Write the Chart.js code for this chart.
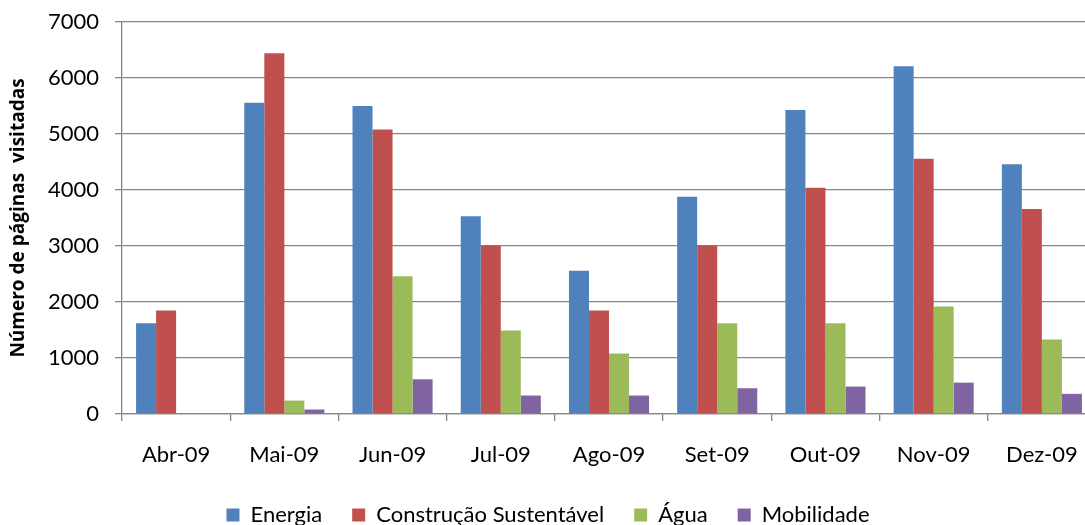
<!DOCTYPE html>
<html lang="pt">
<head>
<meta charset="utf-8">
<script src="https://cdn.jsdelivr.net/npm/chart.js@4"></script>
<style>
  html, body { margin: 0; padding: 0; background: #fff; overflow: hidden; }
  #wrap { width: 1085px; height: 525px; overflow: hidden; }
  canvas { display: block; }
</style>
</head>
<body>
<div id="wrap"><canvas id="grafico" width="1100" height="536"></canvas></div>
<script>
// ── dados ──────────────────────────────────────────────
const categorias = ["Abr-09", "Mai-09", "Jun-09", "Jul-09", "Ago-09", "Set-09", "Out-09", "Nov-09", "Dez-09"];
const energia    = [1620, 5560, 5500, 3530, 2560, 3880, 5430, 6210, 4460];
const construcao = [1850, 6440, 5080, 3010, 1850, 3010, 4040, 4560, 3660];
const agua       = [null,  240, 2460, 1490, 1080, 1620, 1620, 1920, 1330];
const mobilidade = [null,   80,  620,  330,  330,  460,  490,  560,  360];
const yTicks     = [0, 1000, 2000, 3000, 4000, 5000, 6000, 7000];

const FONTE = "Lato, 'Open Sans', sans-serif";
const CINZA = "#868686";

function serie(label, data, cor) {
  return {
    label, data,
    backgroundColor: cor,
    borderWidth: 0,
    barPercentage: 1,
    categoryPercentage: 0.74,
  };
}

new Chart(document.getElementById("grafico"), {
  type: "bar",
  data: {
    labels: categorias,
    datasets: [
      serie("Energia", energia, "#4F81BD"),
      serie("Construção Sustentável", construcao, "#C0504D"),
      serie("Água", agua, "#9BBB59"),
      serie("Mobilidade", mobilidade, "#8064A2"),
    ],
  },
  options: {
    responsive: false,
    animation: false,
    layout: { padding: { top: 22, right: 4, left: 0, bottom: 0 } },
    plugins: {
      tooltip: { enabled: false },
      legend: {
        position: "bottom",
        labels: {
          color: "#000",
          font: { family: FONTE, size: 22 },
          boxWidth: 13,
          boxHeight: 13,
          padding: 30,
        },
      },
    },
    scales: {
      x: {
        offset: true,
        grid: {
          offset: true,
          drawOnChartArea: false,
          drawTicks: true,
          tickLength: 7,
          tickColor: CINZA,
          lineWidth: 1.3,
        },
        border: { color: CINZA, width: 1.3 },
        ticks: {
          color: "#000",
          font: { family: FONTE, size: 22 },
          padding: 21,
          maxRotation: 0,
        },
        afterFit(scale) { scale.height = 60; },
      },
      y: {
        min: 0,
        max: 7000,
        afterBuildTicks(scale) { scale.ticks = yTicks.map((v) => ({ value: v })); },
        grid: {
          color: CINZA,
          lineWidth: 1.3,
          tickLength: 7,
          tickColor: CINZA,
        },
        border: { color: CINZA, width: 1.3 },
        ticks: {
          color: "#000",
          font: { family: FONTE, size: 22 },
          padding: 16,
          callback: (v) => String(v),
        },
        title: {
          display: true,
          text: "Número de páginas  visitadas",
          color: "#000",
          font: { family: "'Open Sans', sans-serif", size: 19, weight: "bold" },
          padding: { top: 7, bottom: 0 },
        },
        afterFit(scale) {
          scale.width = 122;
          scale.paddingTop = 0;
          scale.paddingBottom = 0;
        },
      },
    },
  },
});
</script>
</body>
</html>
